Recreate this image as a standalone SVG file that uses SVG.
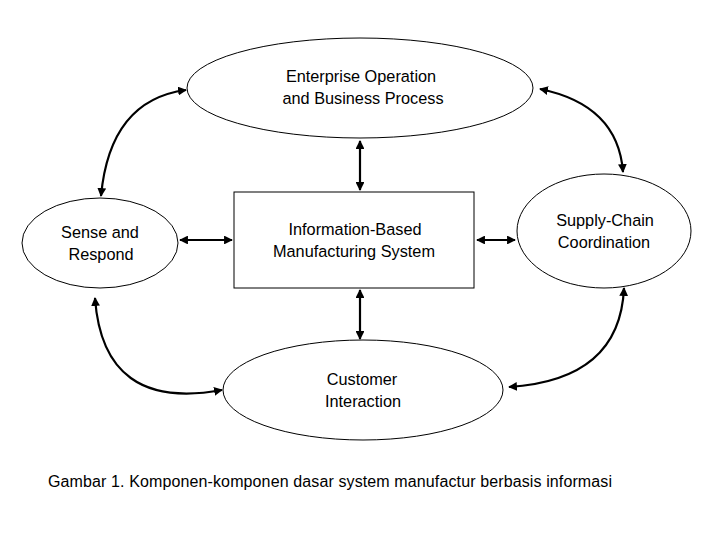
<svg xmlns="http://www.w3.org/2000/svg" width="720" height="540" viewBox="0 0 720 540">
<defs>
<marker id="ah" viewBox="0 0 10 10" refX="9" refY="5" markerWidth="4" markerHeight="4" orient="auto-start-reverse" markerUnits="strokeWidth">
<path d="M0,0 L10,5 L0,10 z" fill="#000"/>
</marker>
</defs>
<style>
.shape{fill:#fff;stroke:#000;stroke-width:1}
.lbl{font-family:"Liberation Sans",Arial,sans-serif;font-size:16.3px;fill:#000;text-anchor:middle}
.con{fill:none;stroke:#000;stroke-width:2.2;marker-start:url(#ah);marker-end:url(#ah)}
.cap{font-family:"Liberation Sans",Arial,sans-serif;font-size:16px;fill:#000}
</style>
<rect width="720" height="540" fill="#fff"/>
<g id="connectors">
<path class="con" d="M101,196 Q110,100 186,90"/>
<path class="con" d="M540,89 Q618,105 623,172"/>
<path class="con" d="M95,298 Q103,412 222,390"/>
<path class="con" d="M624,288 Q620,380 509,387"/>
<path class="con" d="M360,141 L360,190"/>
<path class="con" d="M360,290 L360,339"/>
<path class="con" d="M180,240 L232,240"/>
<path class="con" d="M477,240 L515,240"/>
</g>
<g id="enterprise">
<ellipse class="shape" cx="360" cy="88" rx="173" ry="50"/>
<text class="lbl" x="361" y="82">Enterprise Operation</text>
<text class="lbl" x="363" y="104">and Business Process</text>
</g>
<g id="sense">
<ellipse class="shape" cx="100" cy="243" rx="78" ry="45"/>
<text class="lbl" x="100" y="238">Sense and</text>
<text class="lbl" x="101" y="260">Respond</text>
</g>
<g id="ibms">
<rect class="shape" x="234" y="192" width="240" height="96"/>
<text class="lbl" x="355" y="235">Information-Based</text>
<text class="lbl" x="354" y="257">Manufacturing System</text>
</g>
<g id="supply">
<ellipse class="shape" cx="604" cy="231" rx="87" ry="57"/>
<text class="lbl" x="605" y="226">Supply-Chain</text>
<text class="lbl" x="604" y="248">Coordination</text>
</g>
<g id="customer">
<ellipse class="shape" cx="363" cy="390" rx="140" ry="50"/>
<text class="lbl" x="362" y="385">Customer</text>
<text class="lbl" x="363" y="407">Interaction</text>
</g>
<text class="cap" x="48" y="487" textLength="564" lengthAdjust="spacing">Gambar 1. Komponen-komponen dasar system manufactur berbasis informasi</text>
</svg>
